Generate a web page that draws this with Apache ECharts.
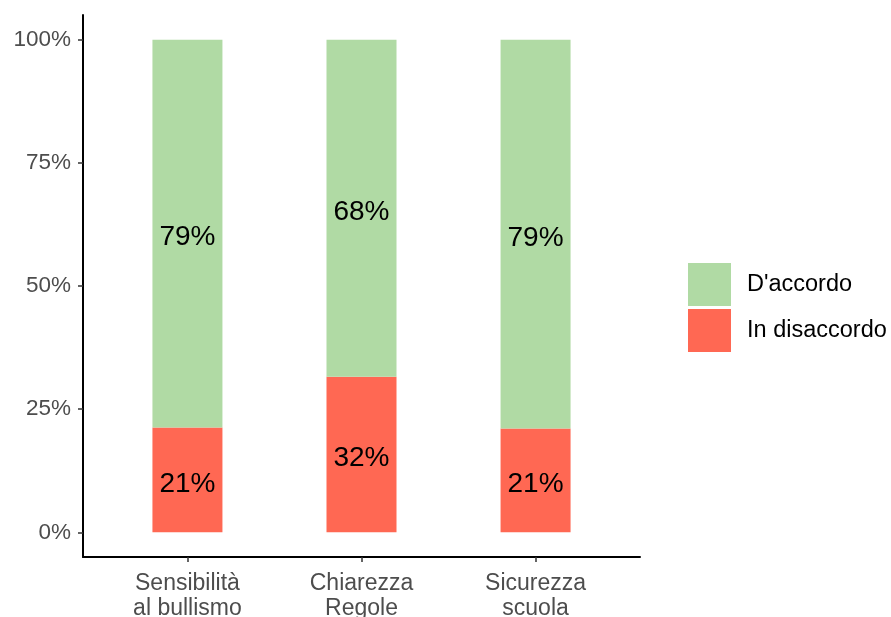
<!DOCTYPE html>
<html>
<head>
<meta charset="utf-8">
<script src="https://cdn.jsdelivr.net/npm/echarts@6/dist/echarts.min.js"></script>
<style>
html,body{margin:0;padding:0;background:#fff;}
#c{width:891px;height:617px;}
</style>
</head>
<body>
<div id="c"></div>
<script>
const categories = ['Sensibilità\nal bullismo', 'Chiarezza\nRegole', 'Sicurezza\nscuola'];
const positions = [1, 2, 3];
const disaccordo = [21.3, 31.6, 21.1];
const accordo = [78.7, 68.4, 78.9];
const seriesNames = ["D'accordo", 'In disaccordo'];
const yTicks = [0, 25, 50, 75, 100];

const FONT = '"Liberation Sans", Arial, Helvetica, sans-serif';
const GREEN = '#B0DAA4';
const RED = '#FF6853';

const chart = echarts.init(document.getElementById('c'), null, {renderer: 'canvas'});

// Layout: outer plot panel and inner band area (ggplot discrete expansion 0.6)
const W = 891, H = 617;
const pL = 83, pR = 640, pT = 15, pB = 557;
const unit = (pR - pL) / 3.2;
const bL = pL + 0.1 * unit, bR = pR - 0.1 * unit;

const labelCfg = {
  show: true,
  position: 'inside',
  offset: [0, 4],
  color: '#000',
  fontSize: 28,
  fontFamily: FONT,
  formatter: p => Math.round(p.value) + '%'
};

chart.setOption({
  animation: false,
  backgroundColor: '#fff',
  grid: [
    {left: pL, right: W - pR, top: pT, bottom: H - pB, containLabel: false, outerBoundsMode: 'none'},
    {left: bL, right: W - bR, top: pT, bottom: H - pB, containLabel: false, outerBoundsMode: 'none'}
  ],
  legend: {
    orient: 'vertical',
    left: 688,
    top: 263,
    padding: 0,
    itemWidth: 43,
    itemHeight: 43,
    itemGap: 3,
    icon: 'rect',
    data: seriesNames,
    textStyle: {fontSize: 23.5, fontFamily: FONT, color: '#000', padding: [5, 0, 0, 11]}
  },
  xAxis: [
    {
      gridIndex: 0,
      type: 'value',
      min: 0.4,
      max: 3.6,
      axisLine: {show: true, onZero: false, lineStyle: {color: '#000', width: 2}},
      axisTick: {show: true, customValues: positions, length: 5, lineStyle: {color: '#333', width: 1.5}},
      axisLabel: {
        show: true,
        customValues: positions,
        margin: 14,
        fontSize: 23,
        lineHeight: 25,
        fontFamily: FONT,
        color: '#4D4D4D',
        formatter: v => categories[Math.round(v) - 1] || ''
      },
      splitLine: {show: false}
    },
    {
      gridIndex: 1,
      type: 'category',
      data: categories,
      show: false
    }
  ],
  yAxis: [
    {
      gridIndex: 0,
      type: 'value',
      min: -5,
      max: 105,
      axisLine: {show: true, onZero: false, lineStyle: {color: '#000', width: 2}},
      axisTick: {show: true, customValues: yTicks, length: 5, lineStyle: {color: '#333', width: 1.5}},
      axisLabel: {
        show: true,
        customValues: yTicks,
        margin: 12,
        fontSize: 22.5,
        fontFamily: FONT,
        color: '#4D4D4D',
        formatter: v => v + '%'
      },
      splitLine: {show: false}
    },
    {
      gridIndex: 1,
      type: 'value',
      min: -5,
      max: 105,
      show: false
    }
  ],
  series: [
    {
      name: 'In disaccordo',
      type: 'bar',
      xAxisIndex: 1,
      yAxisIndex: 1,
      stack: 'tot',
      barWidth: 70,
      data: disaccordo,
      itemStyle: {color: RED},
      label: labelCfg
    },
    {
      name: "D'accordo",
      type: 'bar',
      xAxisIndex: 1,
      yAxisIndex: 1,
      stack: 'tot',
      barWidth: 70,
      data: accordo,
      itemStyle: {color: GREEN},
      label: labelCfg
    }
  ]
});
</script>
</body>
</html>
